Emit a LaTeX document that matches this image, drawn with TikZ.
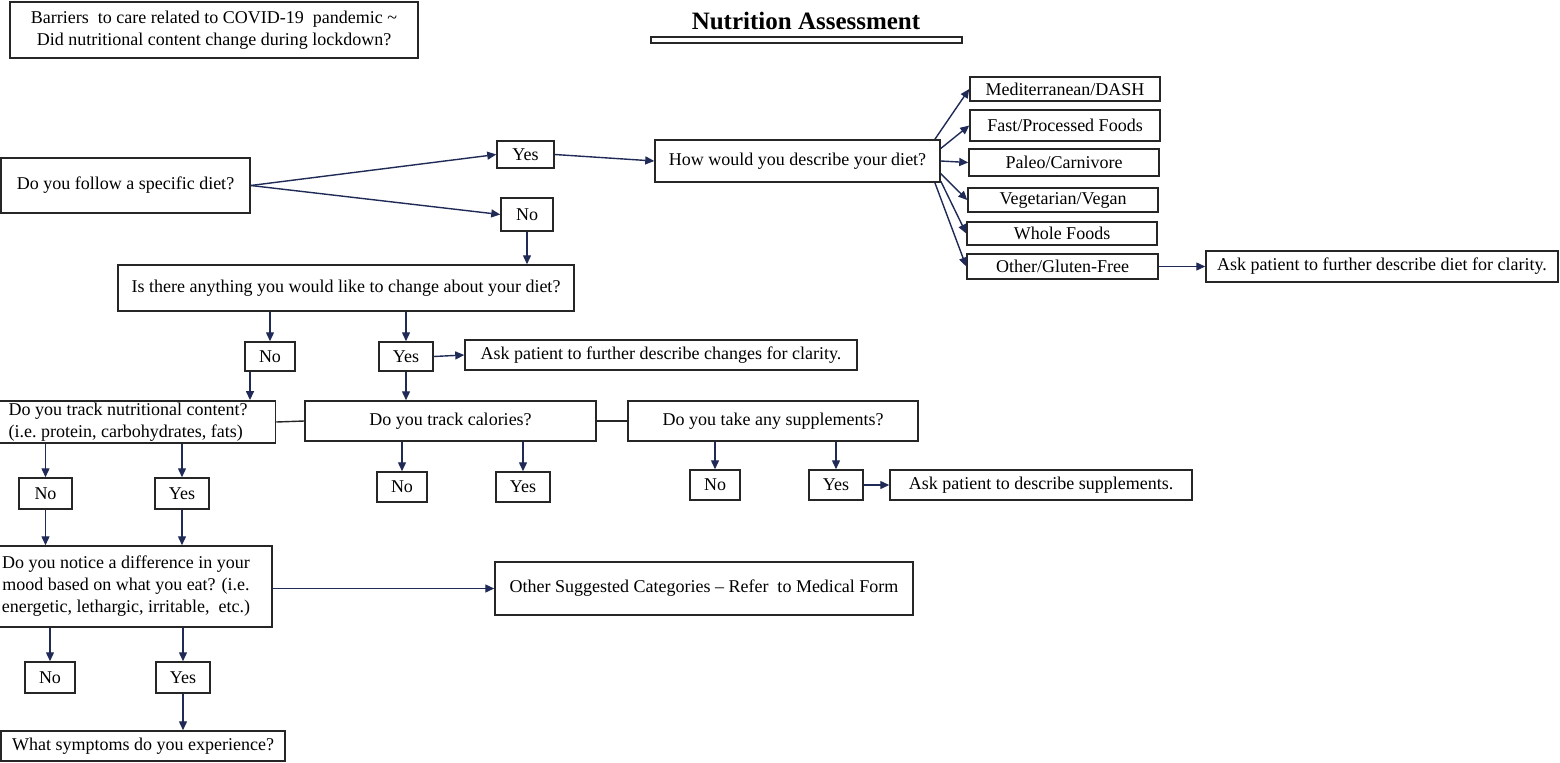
\documentclass[tikz,border=0pt]{standalone}
\usepackage{fontspec}
\setmainfont{Liberation Serif}
\usetikzlibrary{positioning,arrows.meta,shapes}

\definecolor{navy}{HTML}{1F2A56}
\definecolor{edgegray}{HTML}{262626}

\begin{document}
\begin{tikzpicture}[x=0.5pt, y=-0.5pt,
    font=\fontsize{9}{11}\selectfont,
    box/.style={draw=edgegray, line width=0.75pt, inner sep=1pt, align=center},
    flow/.style={-{Triangle[length=4.5pt,width=4pt]}, color=navy, line width=0.7pt},
    link/.style={color=edgegray, line width=0.7pt}
  ]
    \useasboundingbox (0,0) rectangle (1560,762);

    % heading
    \node[box, minimum width=204pt, minimum height=28pt] (hdr) at (214,30)
      {Barriers\ \ to care related to COVID-19\ \ pandemic \textasciitilde\\
       Did nutritional content change during lockdown?};
    \node[font=\fontsize{12.5}{15}\selectfont\bfseries] (title) at (806,21) {Nutrition Assessment};
    \node[box, minimum width=155.5pt, minimum height=3pt, inner sep=0pt] (ttlbar) at (806.5,40) {};

    % diet
    \node[box, minimum width=124.5pt, minimum height=27.5pt] (diet) at (125.5,185.5) {Do you follow a specific diet?};
    \node[box, minimum width=28.5pt, minimum height=13.5pt] (dietyes) at (525.5,154.5) {Yes};
    \node[box, minimum width=26pt, minimum height=16.5pt] (dietno) at (527,214.5) {No};
    \node[box, minimum width=142.5pt, minimum height=21pt] (describe) at (797.5,161) {How would you describe your diet?};
    \node[box, minimum width=95pt, minimum height=12pt] (med) at (1065,89) {Mediterranean/DASH};
    \node[box, minimum width=95pt, minimum height=15.5pt] (fast) at (1065,125.5) {Fast/Processed Foods};
    \node[box, minimum width=95pt, minimum height=13.5pt] (paleo) at (1064,162.5) {Paleo/Carnivore};
    \node[box, minimum width=95pt, minimum height=12pt] (veg) at (1063,200) {Vegetarian/Vegan};
    \node[box, minimum width=95pt, minimum height=11.5pt] (whole) at (1062,233.5) {Whole Foods};
    \node[box, minimum width=95.5pt, minimum height=12.5pt] (other) at (1062.5,266.5) {Other/Gluten-Free};
    \node[box, minimum width=176pt, minimum height=15.5pt] (askdiet) at (1382,266.5) {Ask patient to further describe diet for clarity.};

    % change
    \node[box, minimum width=228pt, minimum height=23pt] (change) at (346,288) {Is there anything you would like to change about your diet?};
    \node[box, minimum width=25pt, minimum height=14.5pt] (chno) at (270,356.5) {No};
    \node[box, minimum width=27pt, minimum height=14.5pt] (chyes) at (406,356.5) {Yes};
    \node[box, minimum width=196pt, minimum height=15pt] (askchg) at (661,355) {Ask patient to further describe changes for clarity.};

    % tracking
    \node[box, align=left, minimum width=147.5pt, minimum height=21pt] (nutr) at (128,422)
      {Do you track nutritional content?\\(i.e.\ protein, carbohydrates, fats)};
    \node[box, minimum width=145.5pt, minimum height=20pt] (cal) at (450.5,421) {Do you track calories?};
    \node[box, minimum width=145pt, minimum height=20pt] (supp) at (773,421) {Do you take any supplements?};
    \node[box, minimum width=26.5pt, minimum height=15.5pt] (nuno) at (45.5,493.5) {No};
    \node[box, minimum width=27pt, minimum height=15.5pt] (nuyes) at (182,493.5) {Yes};
    \node[box, minimum width=25pt, minimum height=15pt] (calno) at (402,487) {No};
    \node[box, minimum width=27pt, minimum height=15pt] (calyes) at (523,487) {Yes};
    \node[box, minimum width=25pt, minimum height=15pt] (supno) at (715,485) {No};
    \node[box, minimum width=27pt, minimum height=15pt] (supyes) at (836,485) {Yes};
    \node[box, minimum width=151pt, minimum height=15pt] (asksup) at (1041,485) {Ask patient to describe supplements.};

    % mood
    \node[box, minimum width=146pt, minimum height=40.5pt] (mood) at (126,586.5)
      {Do you notice a difference in your\\mood based on what you eat? (i.e.\\energetic, lethargic, irritable,\ \ etc.)};
    \node[box, minimum width=209pt, minimum height=26.5pt] (othercat) at (704,588.5) {Other Suggested Categories -- Refer\ \ to Medical Form};
    \node[box, minimum width=25pt, minimum height=15.5pt] (moodno) at (50,677.5) {No};
    \node[box, minimum width=27pt, minimum height=15.5pt] (moodyes) at (183,677.5) {Yes};
    \node[box, minimum width=142pt, minimum height=15pt] (symp) at (143,746) {What symptoms do you experience?};

    \path[flow]
    (diet.east) edge (dietyes.west)
                edge (dietno.west)
    (dietyes.east) edge (describe.west)
    (describe.9) edge (med.west)
    (describe.5) edge (fast.west)
    (describe.east) edge (paleo.west)
    (describe.-5) edge (veg.west)
    (describe.-8.7) edge (whole.west)
    (describe.-9.7) edge (other.west)
    (other.east) edge (askdiet.west)
    (dietno.south) edge (dietno |- change.north)
    (chno |- change.south) edge (chno.north)
    (chyes |- change.south) edge (chyes.north)
    (chyes.east) edge (askchg.west)
    ([xshift=-10pt]chno.south) edge ([xshift=-10pt]chno.south |- nutr.north)
    (chyes.south) edge (chyes |- cal.north)
    (nuno |- nutr.south) edge (nuno.north)
    (nuyes |- nutr.south) edge (nuyes.north)
    (nuno.south) edge (nuno |- mood.north)
    (nuyes.south) edge (nuyes |- mood.north)
    (calno |- cal.south) edge (calno.north)
    (calyes |- cal.south) edge (calyes.north)
    (supno |- supp.south) edge (supno.north)
    (supyes |- supp.south) edge (supyes.north)
    (supyes.east) edge (asksup.west)
    (othercat.west -| mood.east) edge (othercat.west)
    (moodno |- mood.south) edge (moodno.north)
    (moodyes |- mood.south) edge (moodyes.north)
    (moodyes.south) edge (moodyes |- symp.north)
          ;
    \path[link]
    (nutr.east) edge (cal.west)
    (cal.east) edge (supp.west);
\end{tikzpicture}
\end{document}
